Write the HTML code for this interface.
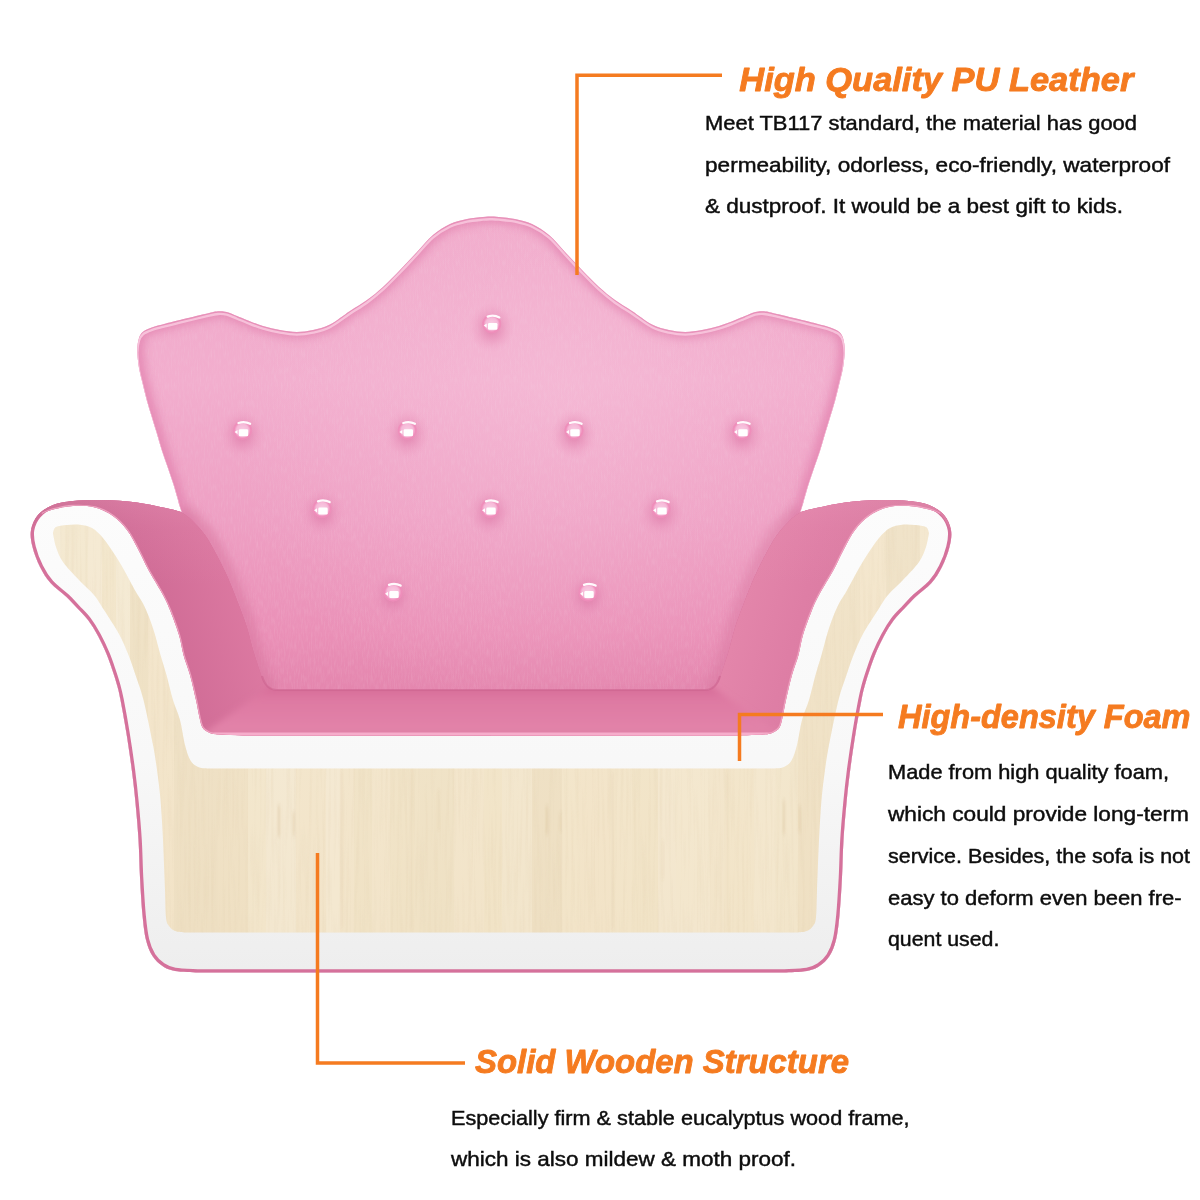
<!DOCTYPE html>
<html><head><meta charset="utf-8"><title>Sofa</title>
<style>
html,body{margin:0;padding:0;background:#fff;}
body{width:1200px;height:1200px;overflow:hidden;font-family:"Liberation Sans",sans-serif;}
svg{display:block}
.h{font-family:"Liberation Sans",sans-serif;font-weight:bold;font-style:italic;font-size:33.5px;fill:#f57b20;stroke:#f57b20;stroke-width:.9px;stroke-linejoin:round}
.b{font-family:"Liberation Sans",sans-serif;font-size:21px;fill:#0d0d0d;stroke:#0d0d0d;stroke-width:.45px}
</style></head><body>
<svg width="1200" height="1200" viewBox="0 0 1200 1200">
<defs>
<linearGradient id="gBack" x1="0" y1="216" x2="0" y2="690" gradientUnits="userSpaceOnUse">
<stop offset="0" stop-color="#f0a8c9"/><stop offset=".35" stop-color="#f2aece"/><stop offset=".65" stop-color="#ee9fc3"/><stop offset=".88" stop-color="#ea90b7"/><stop offset="1" stop-color="#e486ae"/>
</linearGradient>
<radialGradient id="gBackHi" cx="560" cy="400" r="330" gradientUnits="userSpaceOnUse">
<stop offset="0" stop-color="#fad0e4" stop-opacity=".3"/><stop offset="1" stop-color="#fbd0e6" stop-opacity="0"/>
</radialGradient>
<linearGradient id="gArmL" x1="120" y1="640" x2="262" y2="600" gradientUnits="userSpaceOnUse">
<stop offset="0" stop-color="#c8668e"/><stop offset=".3" stop-color="#d06c96"/><stop offset="1" stop-color="#de7ba3"/>
</linearGradient>
<linearGradient id="gArmR" x1="120" y1="640" x2="262" y2="600" gradientUnits="userSpaceOnUse">
<stop offset="0" stop-color="#d87a9f"/><stop offset=".45" stop-color="#de7ea5"/><stop offset="1" stop-color="#e588ac"/>
</linearGradient>
<linearGradient id="gArmTop" x1="0" y1="498" x2="0" y2="585" gradientUnits="userSpaceOnUse">
<stop offset="0" stop-color="#f3a9c7" stop-opacity=".7"/><stop offset=".35" stop-color="#ee9cbe" stop-opacity=".35"/><stop offset="1" stop-color="#ee9cbe" stop-opacity="0"/>
</linearGradient>
<linearGradient id="gSeat" x1="0" y1="688" x2="0" y2="736" gradientUnits="userSpaceOnUse">
<stop offset="0" stop-color="#d66c98"/><stop offset=".22" stop-color="#de79a2"/><stop offset=".85" stop-color="#e283a9"/><stop offset="1" stop-color="#de7fa5"/>
</linearGradient>
<linearGradient id="gFoam" x1="0" y1="500" x2="0" y2="970" gradientUnits="userSpaceOnUse"><stop offset="0" stop-color="#fcfcfc"/><stop offset=".55" stop-color="#f8f8f8"/><stop offset=".85" stop-color="#f1f1f1"/><stop offset="1" stop-color="#eeeeee"/></linearGradient>
<linearGradient id="gWood" x1="0" y1="520" x2="0" y2="935" gradientUnits="userSpaceOnUse">
<stop offset="0" stop-color="#f4e8cf"/><stop offset="1" stop-color="#f2e4c8"/>
</linearGradient>
<radialGradient id="dimple"><stop offset="0" stop-color="#dc76a4" stop-opacity=".85"/><stop offset=".42" stop-color="#e283af" stop-opacity=".5"/><stop offset="1" stop-color="#ee9ec2" stop-opacity="0"/></radialGradient>
<radialGradient id="bead" cx=".5" cy=".5" r=".5"><stop offset="0" stop-color="#f9cde3"/><stop offset=".6" stop-color="#f6b9d8"/><stop offset=".82" stop-color="#ef8dba"/><stop offset=".93" stop-color="#ef8ebb" stop-opacity=".8"/><stop offset="1" stop-color="#ef8ebb" stop-opacity="0"/></radialGradient>
<clipPath id="cSil"><path d="M181.00 512.00 C179.17 511.50 177.33 510.58 170.00 509.00 C162.67 507.42 148.17 504.00 137.00 502.50 C125.83 501.00 113.67 500.25 103.00 500.00 C92.33 499.75 81.33 500.17 73.00 501.00 C64.67 501.83 58.83 502.67 53.00 505.00 C47.17 507.33 41.67 510.83 38.00 515.00 C34.33 519.17 31.92 524.67 31.00 530.00 C30.08 535.33 31.00 540.83 32.50 547.00 C34.00 553.17 37.00 561.00 40.00 567.00 C43.00 573.00 46.08 578.00 50.50 583.00 C54.92 588.00 62.08 592.83 66.50 597.00 C70.92 601.17 73.42 604.17 77.00 608.00 C80.58 611.83 84.50 615.33 88.00 620.00 C91.50 624.67 94.92 630.33 98.00 636.00 C101.08 641.67 104.12 648.33 106.50 654.00 C108.88 659.67 110.50 664.67 112.30 670.00 C114.10 675.33 115.93 681.00 117.30 686.00 C118.67 691.00 119.00 692.25 120.50 700.00 C122.00 707.75 124.42 720.83 126.30 732.50 C128.18 744.17 130.27 758.25 131.80 770.00 C133.33 781.75 134.38 791.33 135.50 803.00 C136.62 814.67 137.75 827.58 138.50 840.00 C139.25 852.42 139.33 865.00 140.00 877.50 C140.67 890.00 141.50 904.58 142.50 915.00 C143.50 925.42 144.33 933.17 146.00 940.00 C147.67 946.83 149.75 951.67 152.50 956.00 C155.25 960.33 158.75 963.50 162.50 966.00 C166.25 968.50 169.17 969.92 175.00 971.00 C180.83 972.08 193.75 972.25 197.50 972.50 L784.50 972.50 C788.25 972.25 801.17 972.08 807.00 971.00 C812.83 969.92 815.75 968.50 819.50 966.00 C823.25 963.50 826.75 960.33 829.50 956.00 C832.25 951.67 834.33 946.83 836.00 940.00 C837.67 933.17 838.50 925.42 839.50 915.00 C840.50 904.58 841.33 890.00 842.00 877.50 C842.67 865.00 842.75 852.42 843.50 840.00 C844.25 827.58 845.38 814.67 846.50 803.00 C847.62 791.33 848.67 781.75 850.20 770.00 C851.73 758.25 853.82 744.17 855.70 732.50 C857.58 720.83 860.00 707.75 861.50 700.00 C863.00 692.25 863.33 691.00 864.70 686.00 C866.07 681.00 867.90 675.33 869.70 670.00 C871.50 664.67 873.12 659.67 875.50 654.00 C877.88 648.33 880.92 641.67 884.00 636.00 C887.08 630.33 890.50 624.67 894.00 620.00 C897.50 615.33 901.42 611.83 905.00 608.00 C908.58 604.17 911.08 601.17 915.50 597.00 C919.92 592.83 927.08 588.00 931.50 583.00 C935.92 578.00 939.00 573.00 942.00 567.00 C945.00 561.00 948.00 553.17 949.50 547.00 C951.00 540.83 951.92 535.33 951.00 530.00 C950.08 524.67 947.67 519.17 944.00 515.00 C940.33 510.83 934.83 507.33 929.00 505.00 C923.17 502.67 917.33 501.83 909.00 501.00 C900.67 500.17 889.67 499.75 879.00 500.00 C868.33 500.25 856.17 501.00 845.00 502.50 C833.83 504.00 819.33 507.42 812.00 509.00 C804.67 510.58 802.83 511.50 801.00 512.00 C799.22 513.33 794.30 516.17 790.30 520.00 C786.30 523.83 781.17 529.17 777.00 535.00 C772.83 540.83 769.13 547.83 765.30 555.00 C761.47 562.17 757.55 570.00 754.00 578.00 C750.45 586.00 747.12 594.88 744.00 603.00 C740.88 611.12 737.80 618.87 735.30 626.70 C732.80 634.53 731.22 642.50 729.00 650.00 C726.78 657.50 724.00 666.03 722.00 671.70 C720.00 677.37 719.17 680.95 717.00 684.00 C714.83 687.05 710.33 689.00 709.00 690.00 L273.00 690.00 C271.67 689.00 267.17 687.05 265.00 684.00 C262.83 680.95 262.00 677.37 260.00 671.70 C258.00 666.03 255.22 657.50 253.00 650.00 C250.78 642.50 249.20 634.53 246.70 626.70 C244.20 618.87 241.12 611.12 238.00 603.00 C234.88 594.88 231.55 586.00 228.00 578.00 C224.45 570.00 220.53 562.17 216.70 555.00 C212.87 547.83 209.17 540.83 205.00 535.00 C200.83 529.17 195.70 523.83 191.70 520.00 C187.70 516.17 182.78 513.33 181.00 512.00 Z"/></clipPath>
<clipPath id="cBack"><path d="M236.00 700.00 C231.33 681.67 217.17 621.67 208.00 590.00 C198.83 558.33 186.00 525.00 181.00 510.00 C176.00 495.00 179.33 504.50 178.00 500.00 C176.67 495.50 174.75 488.55 173.00 483.00 C171.25 477.45 169.38 472.20 167.50 466.70 C165.62 461.20 163.50 455.62 161.70 450.00 C159.90 444.38 158.37 438.55 156.70 433.00 C155.03 427.45 153.37 422.20 151.70 416.70 C150.03 411.20 148.23 405.62 146.70 400.00 C145.17 394.38 143.82 388.55 142.50 383.00 C141.18 377.45 139.67 372.20 138.80 366.70 C137.93 361.20 137.27 354.78 137.30 350.00 C137.33 345.22 138.05 341.05 139.00 338.00 C139.95 334.95 140.88 333.45 143.00 331.70 C145.12 329.95 148.03 328.83 151.70 327.50 C155.37 326.17 160.28 324.95 165.00 323.70 C169.72 322.45 173.33 321.62 180.00 320.00 C186.67 318.38 198.67 315.45 205.00 314.00 C211.33 312.55 214.38 311.63 218.00 311.30 C221.62 310.97 223.53 311.22 226.70 312.00 C229.87 312.78 233.67 314.67 237.00 316.00 C240.33 317.33 242.37 318.33 246.70 320.00 C251.03 321.67 257.45 324.33 263.00 326.00 C268.55 327.67 274.38 329.02 280.00 330.00 C285.62 330.98 291.20 331.90 296.70 331.90 C302.20 331.90 307.45 331.23 313.00 330.00 C318.55 328.77 323.83 327.67 330.00 324.50 C336.17 321.33 343.83 315.08 350.00 311.00 C356.17 306.92 361.50 304.00 367.00 300.00 C372.50 296.00 377.50 292.00 383.00 287.00 C388.50 282.00 394.33 275.83 400.00 270.00 C405.67 264.17 411.50 257.83 417.00 252.00 C422.50 246.17 427.50 239.67 433.00 235.00 C438.50 230.33 444.33 226.67 450.00 224.00 C455.67 221.33 461.50 220.17 467.00 219.00 C472.50 217.83 479.00 217.42 483.00 217.00 C487.00 216.58 489.67 216.58 491.00 216.50 C492.33 216.58 495.00 216.58 499.00 217.00 C503.00 217.42 509.50 217.83 515.00 219.00 C520.50 220.17 526.33 221.33 532.00 224.00 C537.67 226.67 543.50 230.33 549.00 235.00 C554.50 239.67 559.50 246.17 565.00 252.00 C570.50 257.83 576.33 264.17 582.00 270.00 C587.67 275.83 593.50 282.00 599.00 287.00 C604.50 292.00 609.50 296.00 615.00 300.00 C620.50 304.00 625.83 306.92 632.00 311.00 C638.17 315.08 645.83 321.33 652.00 324.50 C658.17 327.67 663.45 328.77 669.00 330.00 C674.55 331.23 679.80 331.90 685.30 331.90 C690.80 331.90 696.38 330.98 702.00 330.00 C707.62 329.02 713.45 327.67 719.00 326.00 C724.55 324.33 730.97 321.67 735.30 320.00 C739.63 318.33 741.67 317.33 745.00 316.00 C748.33 314.67 752.13 312.78 755.30 312.00 C758.47 311.22 760.38 310.97 764.00 311.30 C767.62 311.63 770.67 312.55 777.00 314.00 C783.33 315.45 795.33 318.38 802.00 320.00 C808.67 321.62 812.28 322.45 817.00 323.70 C821.72 324.95 826.63 326.17 830.30 327.50 C833.97 328.83 836.88 329.95 839.00 331.70 C841.12 333.45 842.05 334.95 843.00 338.00 C843.95 341.05 844.67 345.22 844.70 350.00 C844.73 354.78 844.07 361.20 843.20 366.70 C842.33 372.20 840.82 377.45 839.50 383.00 C838.18 388.55 836.83 394.38 835.30 400.00 C833.77 405.62 831.97 411.20 830.30 416.70 C828.63 422.20 826.97 427.45 825.30 433.00 C823.63 438.55 822.10 444.38 820.30 450.00 C818.50 455.62 816.38 461.20 814.50 466.70 C812.62 472.20 810.75 477.45 809.00 483.00 C807.25 488.55 805.33 495.50 804.00 500.00 C802.67 504.50 806.00 495.00 801.00 510.00 C796.00 525.00 783.17 558.33 774.00 590.00 C764.83 621.67 750.67 681.67 746.00 700.00 Z"/></clipPath>
<clipPath id="cInner"><path d="M181.00 512.00 C179.17 511.50 177.33 510.58 170.00 509.00 C162.67 507.42 148.17 504.00 137.00 502.50 C125.83 501.00 113.67 500.25 103.00 500.00 C92.33 499.75 81.33 500.17 73.00 501.00 C64.67 501.83 58.83 502.67 53.00 505.00 C47.17 507.33 41.67 510.83 38.00 515.00 C34.33 519.17 32.17 527.50 31.00 530.00 L36.00 522.00 C37.00 520.67 39.17 516.08 42.00 514.00 C44.83 511.92 47.83 510.83 53.00 509.50 C58.17 508.17 66.00 506.33 73.00 506.00 C80.00 505.67 88.33 505.83 95.00 507.50 C101.67 509.17 107.67 512.25 113.00 516.00 C118.33 519.75 122.83 524.50 127.00 530.00 C131.17 535.50 134.42 542.33 138.00 549.00 C141.58 555.67 144.33 562.33 148.50 570.00 C152.67 577.67 159.42 588.33 163.00 595.00 C166.58 601.67 167.33 603.33 170.00 610.00 C172.67 616.67 176.75 627.50 179.00 635.00 C181.25 642.50 181.67 648.33 183.50 655.00 C185.33 661.67 187.92 667.50 190.00 675.00 C192.08 682.50 194.42 692.92 196.00 700.00 C197.58 707.08 198.42 712.92 199.50 717.50 C200.58 722.08 200.92 725.00 202.50 727.50 C204.08 730.00 206.25 731.33 209.00 732.50 C211.75 733.67 212.17 733.98 219.00 734.50 C225.83 735.02 244.83 735.42 250.00 735.60 L732.00 735.60 C737.17 735.42 756.17 735.02 763.00 734.50 C769.83 733.98 770.25 733.67 773.00 732.50 C775.75 731.33 777.92 730.00 779.50 727.50 C781.08 725.00 781.42 722.08 782.50 717.50 C783.58 712.92 784.42 707.08 786.00 700.00 C787.58 692.92 789.92 682.50 792.00 675.00 C794.08 667.50 796.67 661.67 798.50 655.00 C800.33 648.33 800.75 642.50 803.00 635.00 C805.25 627.50 809.33 616.67 812.00 610.00 C814.67 603.33 815.42 601.67 819.00 595.00 C822.58 588.33 829.33 577.67 833.50 570.00 C837.67 562.33 840.42 555.67 844.00 549.00 C847.58 542.33 850.83 535.50 855.00 530.00 C859.17 524.50 863.67 519.75 869.00 516.00 C874.33 512.25 880.33 509.17 887.00 507.50 C893.67 505.83 902.00 505.67 909.00 506.00 C916.00 506.33 923.83 508.17 929.00 509.50 C934.17 510.83 937.17 511.92 940.00 514.00 C942.83 516.08 945.00 520.67 946.00 522.00 L951.00 530.00 C949.83 527.50 947.67 519.17 944.00 515.00 C940.33 510.83 934.83 507.33 929.00 505.00 C923.17 502.67 917.33 501.83 909.00 501.00 C900.67 500.17 889.67 499.75 879.00 500.00 C868.33 500.25 856.17 501.00 845.00 502.50 C833.83 504.00 819.33 507.42 812.00 509.00 C804.67 510.58 802.83 511.50 801.00 512.00 C799.22 513.33 794.30 516.17 790.30 520.00 C786.30 523.83 781.17 529.17 777.00 535.00 C772.83 540.83 769.13 547.83 765.30 555.00 C761.47 562.17 757.55 570.00 754.00 578.00 C750.45 586.00 747.12 594.88 744.00 603.00 C740.88 611.12 737.80 618.87 735.30 626.70 C732.80 634.53 731.22 642.50 729.00 650.00 C726.78 657.50 724.00 666.03 722.00 671.70 C720.00 677.37 719.17 680.95 717.00 684.00 C714.83 687.05 710.33 689.00 709.00 690.00 L273.00 690.00 C271.67 689.00 267.17 687.05 265.00 684.00 C262.83 680.95 262.00 677.37 260.00 671.70 C258.00 666.03 255.22 657.50 253.00 650.00 C250.78 642.50 249.20 634.53 246.70 626.70 C244.20 618.87 241.12 611.12 238.00 603.00 C234.88 594.88 231.55 586.00 228.00 578.00 C224.45 570.00 220.53 562.17 216.70 555.00 C212.87 547.83 209.17 540.83 205.00 535.00 C200.83 529.17 195.70 523.83 191.70 520.00 C187.70 516.17 182.78 513.33 181.00 512.00 Z"/></clipPath>
<clipPath id="cWood"><path d="M53.00 533.00 C53.50 535.33 54.33 542.17 56.00 547.00 C57.67 551.83 59.17 556.50 63.00 562.00 C66.83 567.50 73.83 574.50 79.00 580.00 C84.17 585.50 89.83 590.00 94.00 595.00 C98.17 600.00 99.83 603.50 104.00 610.00 C108.17 616.50 114.92 626.50 119.00 634.00 C123.08 641.50 125.75 648.17 128.50 655.00 C131.25 661.83 133.00 667.50 135.50 675.00 C138.00 682.50 140.58 688.33 143.50 700.00 C146.42 711.67 150.75 733.33 153.00 745.00 C155.25 756.67 155.75 760.83 157.00 770.00 C158.25 779.17 159.50 788.33 160.50 800.00 C161.50 811.67 162.25 825.00 163.00 840.00 C163.75 855.00 164.50 877.08 165.00 890.00 C165.50 902.92 165.33 911.50 166.00 917.50 C166.67 923.50 167.50 923.75 169.00 926.00 C170.50 928.25 172.33 929.92 175.00 931.00 C177.67 932.08 183.33 932.25 185.00 932.50 L797.00 932.50 C798.67 932.25 804.33 932.08 807.00 931.00 C809.67 929.92 811.50 928.25 813.00 926.00 C814.50 923.75 815.33 923.50 816.00 917.50 C816.67 911.50 816.50 902.92 817.00 890.00 C817.50 877.08 818.25 855.00 819.00 840.00 C819.75 825.00 820.50 811.67 821.50 800.00 C822.50 788.33 823.75 779.17 825.00 770.00 C826.25 760.83 826.75 756.67 829.00 745.00 C831.25 733.33 835.58 711.67 838.50 700.00 C841.42 688.33 844.00 682.50 846.50 675.00 C849.00 667.50 850.75 661.83 853.50 655.00 C856.25 648.17 858.92 641.50 863.00 634.00 C867.08 626.50 873.83 616.50 878.00 610.00 C882.17 603.50 883.83 600.00 888.00 595.00 C892.17 590.00 897.83 585.50 903.00 580.00 C908.17 574.50 915.17 567.50 919.00 562.00 C922.83 556.50 924.33 551.83 926.00 547.00 C927.67 542.17 928.50 535.33 929.00 533.00 C928.50 532.00 928.33 528.33 926.00 527.00 C923.67 525.67 919.00 525.38 915.00 525.00 C911.00 524.62 906.17 524.20 902.00 524.70 C897.83 525.20 893.83 525.78 890.00 528.00 C886.17 530.22 882.83 533.50 879.00 538.00 C875.17 542.50 870.50 549.67 867.00 555.00 C863.50 560.33 861.50 563.83 858.00 570.00 C854.50 576.17 849.17 586.42 846.00 592.00 C842.83 597.58 841.17 599.33 839.00 603.50 C836.83 607.67 834.92 612.08 833.00 617.00 C831.08 621.92 829.42 626.67 827.50 633.00 C825.58 639.33 823.50 648.00 821.50 655.00 C819.50 662.00 817.58 667.50 815.50 675.00 C813.42 682.50 811.25 692.50 809.00 700.00 C806.75 707.50 804.00 712.50 802.00 720.00 C800.00 727.50 798.75 738.25 797.00 745.00 C795.25 751.75 793.67 756.83 791.50 760.50 C789.33 764.17 786.83 765.67 784.00 767.00 C781.17 768.33 777.33 768.25 774.50 768.50 C771.67 768.75 768.25 768.50 767.00 768.50 L215.00 768.50 C213.75 768.50 210.33 768.75 207.50 768.50 C204.67 768.25 200.83 768.33 198.00 767.00 C195.17 765.67 192.67 764.17 190.50 760.50 C188.33 756.83 186.75 751.75 185.00 745.00 C183.25 738.25 182.00 727.50 180.00 720.00 C178.00 712.50 175.25 707.50 173.00 700.00 C170.75 692.50 168.58 682.50 166.50 675.00 C164.42 667.50 162.50 662.00 160.50 655.00 C158.50 648.00 156.42 639.33 154.50 633.00 C152.58 626.67 150.92 621.92 149.00 617.00 C147.08 612.08 145.17 607.67 143.00 603.50 C140.83 599.33 139.17 597.58 136.00 592.00 C132.83 586.42 127.50 576.17 124.00 570.00 C120.50 563.83 118.50 560.33 115.00 555.00 C111.50 549.67 106.83 542.50 103.00 538.00 C99.17 533.50 95.83 530.22 92.00 528.00 C88.17 525.78 84.17 525.20 80.00 524.70 C75.83 524.20 71.00 524.62 67.00 525.00 C63.00 525.38 58.33 525.67 56.00 527.00 C53.67 528.33 53.50 532.00 53.00 533.00 Z"/></clipPath>
<filter id="leather" x="0" y="0" width="100%" height="100%"><feTurbulence type="fractalNoise" baseFrequency="0.7 0.12" numOctaves="2" seed="3"/><feColorMatrix values="0 0 0 0 1  0 0 0 0 1  0 0 0 0 1  1.4 0 0 0 -0.55"/></filter>
<filter id="grain" x="0" y="0" width="100%" height="100%"><feTurbulence type="fractalNoise" baseFrequency="0.35 0.012" numOctaves="2" seed="5"/><feColorMatrix values="0 0 0 0 0.76  0 0 0 0 0.62  0 0 0 0 0.42  1.6 0 0 0 -0.72"/></filter>
<filter id="blur12" x="-5%" y="-5%" width="110%" height="110%"><feGaussianBlur stdDeviation="1.1 2.5"/></filter>
<filter id="blur07"><feGaussianBlur stdDeviation=".7"/></filter>
<filter id="blur3" x="-10%" y="-30%" width="120%" height="160%"><feGaussianBlur stdDeviation="3"/></filter>
<filter id="blur4"><feGaussianBlur stdDeviation="4"/></filter>
<filter id="blur6"><feGaussianBlur stdDeviation="6"/></filter>
</defs>
<rect width="1200" height="1200" fill="#fff"/>

<!-- backrest -->
<path d="M236.00 700.00 C231.33 681.67 217.17 621.67 208.00 590.00 C198.83 558.33 186.00 525.00 181.00 510.00 C176.00 495.00 179.33 504.50 178.00 500.00 C176.67 495.50 174.75 488.55 173.00 483.00 C171.25 477.45 169.38 472.20 167.50 466.70 C165.62 461.20 163.50 455.62 161.70 450.00 C159.90 444.38 158.37 438.55 156.70 433.00 C155.03 427.45 153.37 422.20 151.70 416.70 C150.03 411.20 148.23 405.62 146.70 400.00 C145.17 394.38 143.82 388.55 142.50 383.00 C141.18 377.45 139.67 372.20 138.80 366.70 C137.93 361.20 137.27 354.78 137.30 350.00 C137.33 345.22 138.05 341.05 139.00 338.00 C139.95 334.95 140.88 333.45 143.00 331.70 C145.12 329.95 148.03 328.83 151.70 327.50 C155.37 326.17 160.28 324.95 165.00 323.70 C169.72 322.45 173.33 321.62 180.00 320.00 C186.67 318.38 198.67 315.45 205.00 314.00 C211.33 312.55 214.38 311.63 218.00 311.30 C221.62 310.97 223.53 311.22 226.70 312.00 C229.87 312.78 233.67 314.67 237.00 316.00 C240.33 317.33 242.37 318.33 246.70 320.00 C251.03 321.67 257.45 324.33 263.00 326.00 C268.55 327.67 274.38 329.02 280.00 330.00 C285.62 330.98 291.20 331.90 296.70 331.90 C302.20 331.90 307.45 331.23 313.00 330.00 C318.55 328.77 323.83 327.67 330.00 324.50 C336.17 321.33 343.83 315.08 350.00 311.00 C356.17 306.92 361.50 304.00 367.00 300.00 C372.50 296.00 377.50 292.00 383.00 287.00 C388.50 282.00 394.33 275.83 400.00 270.00 C405.67 264.17 411.50 257.83 417.00 252.00 C422.50 246.17 427.50 239.67 433.00 235.00 C438.50 230.33 444.33 226.67 450.00 224.00 C455.67 221.33 461.50 220.17 467.00 219.00 C472.50 217.83 479.00 217.42 483.00 217.00 C487.00 216.58 489.67 216.58 491.00 216.50 C492.33 216.58 495.00 216.58 499.00 217.00 C503.00 217.42 509.50 217.83 515.00 219.00 C520.50 220.17 526.33 221.33 532.00 224.00 C537.67 226.67 543.50 230.33 549.00 235.00 C554.50 239.67 559.50 246.17 565.00 252.00 C570.50 257.83 576.33 264.17 582.00 270.00 C587.67 275.83 593.50 282.00 599.00 287.00 C604.50 292.00 609.50 296.00 615.00 300.00 C620.50 304.00 625.83 306.92 632.00 311.00 C638.17 315.08 645.83 321.33 652.00 324.50 C658.17 327.67 663.45 328.77 669.00 330.00 C674.55 331.23 679.80 331.90 685.30 331.90 C690.80 331.90 696.38 330.98 702.00 330.00 C707.62 329.02 713.45 327.67 719.00 326.00 C724.55 324.33 730.97 321.67 735.30 320.00 C739.63 318.33 741.67 317.33 745.00 316.00 C748.33 314.67 752.13 312.78 755.30 312.00 C758.47 311.22 760.38 310.97 764.00 311.30 C767.62 311.63 770.67 312.55 777.00 314.00 C783.33 315.45 795.33 318.38 802.00 320.00 C808.67 321.62 812.28 322.45 817.00 323.70 C821.72 324.95 826.63 326.17 830.30 327.50 C833.97 328.83 836.88 329.95 839.00 331.70 C841.12 333.45 842.05 334.95 843.00 338.00 C843.95 341.05 844.67 345.22 844.70 350.00 C844.73 354.78 844.07 361.20 843.20 366.70 C842.33 372.20 840.82 377.45 839.50 383.00 C838.18 388.55 836.83 394.38 835.30 400.00 C833.77 405.62 831.97 411.20 830.30 416.70 C828.63 422.20 826.97 427.45 825.30 433.00 C823.63 438.55 822.10 444.38 820.30 450.00 C818.50 455.62 816.38 461.20 814.50 466.70 C812.62 472.20 810.75 477.45 809.00 483.00 C807.25 488.55 805.33 495.50 804.00 500.00 C802.67 504.50 806.00 495.00 801.00 510.00 C796.00 525.00 783.17 558.33 774.00 590.00 C764.83 621.67 750.67 681.67 746.00 700.00 Z" fill="url(#gBack)"/>
<g clip-path="url(#cBack)">
<rect x="130" y="210" width="730" height="490" fill="url(#gBackHi)"/>
<rect x="130" y="210" width="730" height="490" filter="url(#leather)" opacity=".13"/>
<path d="M236.00 700.00 C231.33 681.67 217.17 621.67 208.00 590.00 C198.83 558.33 186.00 525.00 181.00 510.00 C176.00 495.00 179.33 504.50 178.00 500.00 C176.67 495.50 174.75 488.55 173.00 483.00 C171.25 477.45 169.38 472.20 167.50 466.70 C165.62 461.20 163.50 455.62 161.70 450.00 C159.90 444.38 158.37 438.55 156.70 433.00 C155.03 427.45 153.37 422.20 151.70 416.70 C150.03 411.20 148.23 405.62 146.70 400.00 C145.17 394.38 143.82 388.55 142.50 383.00 C141.18 377.45 139.67 372.20 138.80 366.70 C137.93 361.20 137.27 354.78 137.30 350.00 C137.33 345.22 138.05 341.05 139.00 338.00 C139.95 334.95 140.88 333.45 143.00 331.70 C145.12 329.95 148.03 328.83 151.70 327.50 C155.37 326.17 160.28 324.95 165.00 323.70 C169.72 322.45 173.33 321.62 180.00 320.00 C186.67 318.38 198.67 315.45 205.00 314.00 C211.33 312.55 214.38 311.63 218.00 311.30 C221.62 310.97 223.53 311.22 226.70 312.00 C229.87 312.78 233.67 314.67 237.00 316.00 C240.33 317.33 242.37 318.33 246.70 320.00 C251.03 321.67 257.45 324.33 263.00 326.00 C268.55 327.67 274.38 329.02 280.00 330.00 C285.62 330.98 291.20 331.90 296.70 331.90 C302.20 331.90 307.45 331.23 313.00 330.00 C318.55 328.77 323.83 327.67 330.00 324.50 C336.17 321.33 343.83 315.08 350.00 311.00 C356.17 306.92 361.50 304.00 367.00 300.00 C372.50 296.00 377.50 292.00 383.00 287.00 C388.50 282.00 394.33 275.83 400.00 270.00 C405.67 264.17 411.50 257.83 417.00 252.00 C422.50 246.17 427.50 239.67 433.00 235.00 C438.50 230.33 444.33 226.67 450.00 224.00 C455.67 221.33 461.50 220.17 467.00 219.00 C472.50 217.83 479.00 217.42 483.00 217.00 C487.00 216.58 489.67 216.58 491.00 216.50 C492.33 216.58 495.00 216.58 499.00 217.00 C503.00 217.42 509.50 217.83 515.00 219.00 C520.50 220.17 526.33 221.33 532.00 224.00 C537.67 226.67 543.50 230.33 549.00 235.00 C554.50 239.67 559.50 246.17 565.00 252.00 C570.50 257.83 576.33 264.17 582.00 270.00 C587.67 275.83 593.50 282.00 599.00 287.00 C604.50 292.00 609.50 296.00 615.00 300.00 C620.50 304.00 625.83 306.92 632.00 311.00 C638.17 315.08 645.83 321.33 652.00 324.50 C658.17 327.67 663.45 328.77 669.00 330.00 C674.55 331.23 679.80 331.90 685.30 331.90 C690.80 331.90 696.38 330.98 702.00 330.00 C707.62 329.02 713.45 327.67 719.00 326.00 C724.55 324.33 730.97 321.67 735.30 320.00 C739.63 318.33 741.67 317.33 745.00 316.00 C748.33 314.67 752.13 312.78 755.30 312.00 C758.47 311.22 760.38 310.97 764.00 311.30 C767.62 311.63 770.67 312.55 777.00 314.00 C783.33 315.45 795.33 318.38 802.00 320.00 C808.67 321.62 812.28 322.45 817.00 323.70 C821.72 324.95 826.63 326.17 830.30 327.50 C833.97 328.83 836.88 329.95 839.00 331.70 C841.12 333.45 842.05 334.95 843.00 338.00 C843.95 341.05 844.67 345.22 844.70 350.00 C844.73 354.78 844.07 361.20 843.20 366.70 C842.33 372.20 840.82 377.45 839.50 383.00 C838.18 388.55 836.83 394.38 835.30 400.00 C833.77 405.62 831.97 411.20 830.30 416.70 C828.63 422.20 826.97 427.45 825.30 433.00 C823.63 438.55 822.10 444.38 820.30 450.00 C818.50 455.62 816.38 461.20 814.50 466.70 C812.62 472.20 810.75 477.45 809.00 483.00 C807.25 488.55 805.33 495.50 804.00 500.00 C802.67 504.50 806.00 495.00 801.00 510.00 C796.00 525.00 783.17 558.33 774.00 590.00 C764.83 621.67 750.67 681.67 746.00 700.00 Z" fill="none" stroke="#e384b0" stroke-width="13" opacity=".8" filter="url(#blur4)"/>
<path d="M236.00 700.00 C231.33 681.67 217.17 621.67 208.00 590.00 C198.83 558.33 186.00 525.00 181.00 510.00 C176.00 495.00 179.33 504.50 178.00 500.00 C176.67 495.50 174.75 488.55 173.00 483.00 C171.25 477.45 169.38 472.20 167.50 466.70 C165.62 461.20 163.50 455.62 161.70 450.00 C159.90 444.38 158.37 438.55 156.70 433.00 C155.03 427.45 153.37 422.20 151.70 416.70 C150.03 411.20 148.23 405.62 146.70 400.00 C145.17 394.38 143.82 388.55 142.50 383.00 C141.18 377.45 139.67 372.20 138.80 366.70 C137.93 361.20 137.27 354.78 137.30 350.00 C137.33 345.22 138.05 341.05 139.00 338.00 C139.95 334.95 140.88 333.45 143.00 331.70 C145.12 329.95 148.03 328.83 151.70 327.50 C155.37 326.17 160.28 324.95 165.00 323.70 C169.72 322.45 173.33 321.62 180.00 320.00 C186.67 318.38 198.67 315.45 205.00 314.00 C211.33 312.55 214.38 311.63 218.00 311.30 C221.62 310.97 223.53 311.22 226.70 312.00 C229.87 312.78 233.67 314.67 237.00 316.00 C240.33 317.33 242.37 318.33 246.70 320.00 C251.03 321.67 257.45 324.33 263.00 326.00 C268.55 327.67 274.38 329.02 280.00 330.00 C285.62 330.98 291.20 331.90 296.70 331.90 C302.20 331.90 307.45 331.23 313.00 330.00 C318.55 328.77 323.83 327.67 330.00 324.50 C336.17 321.33 343.83 315.08 350.00 311.00 C356.17 306.92 361.50 304.00 367.00 300.00 C372.50 296.00 377.50 292.00 383.00 287.00 C388.50 282.00 394.33 275.83 400.00 270.00 C405.67 264.17 411.50 257.83 417.00 252.00 C422.50 246.17 427.50 239.67 433.00 235.00 C438.50 230.33 444.33 226.67 450.00 224.00 C455.67 221.33 461.50 220.17 467.00 219.00 C472.50 217.83 479.00 217.42 483.00 217.00 C487.00 216.58 489.67 216.58 491.00 216.50 C492.33 216.58 495.00 216.58 499.00 217.00 C503.00 217.42 509.50 217.83 515.00 219.00 C520.50 220.17 526.33 221.33 532.00 224.00 C537.67 226.67 543.50 230.33 549.00 235.00 C554.50 239.67 559.50 246.17 565.00 252.00 C570.50 257.83 576.33 264.17 582.00 270.00 C587.67 275.83 593.50 282.00 599.00 287.00 C604.50 292.00 609.50 296.00 615.00 300.00 C620.50 304.00 625.83 306.92 632.00 311.00 C638.17 315.08 645.83 321.33 652.00 324.50 C658.17 327.67 663.45 328.77 669.00 330.00 C674.55 331.23 679.80 331.90 685.30 331.90 C690.80 331.90 696.38 330.98 702.00 330.00 C707.62 329.02 713.45 327.67 719.00 326.00 C724.55 324.33 730.97 321.67 735.30 320.00 C739.63 318.33 741.67 317.33 745.00 316.00 C748.33 314.67 752.13 312.78 755.30 312.00 C758.47 311.22 760.38 310.97 764.00 311.30 C767.62 311.63 770.67 312.55 777.00 314.00 C783.33 315.45 795.33 318.38 802.00 320.00 C808.67 321.62 812.28 322.45 817.00 323.70 C821.72 324.95 826.63 326.17 830.30 327.50 C833.97 328.83 836.88 329.95 839.00 331.70 C841.12 333.45 842.05 334.95 843.00 338.00 C843.95 341.05 844.67 345.22 844.70 350.00 C844.73 354.78 844.07 361.20 843.20 366.70 C842.33 372.20 840.82 377.45 839.50 383.00 C838.18 388.55 836.83 394.38 835.30 400.00 C833.77 405.62 831.97 411.20 830.30 416.70 C828.63 422.20 826.97 427.45 825.30 433.00 C823.63 438.55 822.10 444.38 820.30 450.00 C818.50 455.62 816.38 461.20 814.50 466.70 C812.62 472.20 810.75 477.45 809.00 483.00 C807.25 488.55 805.33 495.50 804.00 500.00 C802.67 504.50 806.00 495.00 801.00 510.00 C796.00 525.00 783.17 558.33 774.00 590.00 C764.83 621.67 750.67 681.67 746.00 700.00 Z" fill="none" stroke="#f8c6de" stroke-width="2.3" opacity=".9" transform="translate(0 2.7)"/>
<g transform="translate(491.7 323.8)"><ellipse cx="0" cy="4" rx="23" ry="25" fill="url(#dimple)"/><circle r="10" fill="url(#bead)"/><path d="M-4 -7.2 Q2 -9.4 7.6 -6.4" stroke="#fff" stroke-width="2.3" fill="none" stroke-linecap="round" opacity=".95"/><rect x="-3.7" y="-0.9" width="9.4" height="6.9" rx="1.3" fill="#fff"/><path d="M-8 1.8 L-5 -0.2 L-5 3.9 Z" fill="#fff" opacity=".95"/></g>
<g transform="translate(242.5 430.2)"><ellipse cx="0" cy="4" rx="23" ry="25" fill="url(#dimple)"/><circle r="10" fill="url(#bead)"/><path d="M-4 -7.2 Q2 -9.4 7.6 -6.4" stroke="#fff" stroke-width="2.3" fill="none" stroke-linecap="round" opacity=".95"/><rect x="-3.7" y="-0.9" width="9.4" height="6.9" rx="1.3" fill="#fff"/><path d="M-8 1.8 L-5 -0.2 L-5 3.9 Z" fill="#fff" opacity=".95"/></g>
<g transform="translate(407.3 430.2)"><ellipse cx="0" cy="4" rx="23" ry="25" fill="url(#dimple)"/><circle r="10" fill="url(#bead)"/><path d="M-4 -7.2 Q2 -9.4 7.6 -6.4" stroke="#fff" stroke-width="2.3" fill="none" stroke-linecap="round" opacity=".95"/><rect x="-3.7" y="-0.9" width="9.4" height="6.9" rx="1.3" fill="#fff"/><path d="M-8 1.8 L-5 -0.2 L-5 3.9 Z" fill="#fff" opacity=".95"/></g>
<g transform="translate(574.0 430.2)"><ellipse cx="0" cy="4" rx="23" ry="25" fill="url(#dimple)"/><circle r="10" fill="url(#bead)"/><path d="M-4 -7.2 Q2 -9.4 7.6 -6.4" stroke="#fff" stroke-width="2.3" fill="none" stroke-linecap="round" opacity=".95"/><rect x="-3.7" y="-0.9" width="9.4" height="6.9" rx="1.3" fill="#fff"/><path d="M-8 1.8 L-5 -0.2 L-5 3.9 Z" fill="#fff" opacity=".95"/></g>
<g transform="translate(742.0 430.2)"><ellipse cx="0" cy="4" rx="23" ry="25" fill="url(#dimple)"/><circle r="10" fill="url(#bead)"/><path d="M-4 -7.2 Q2 -9.4 7.6 -6.4" stroke="#fff" stroke-width="2.3" fill="none" stroke-linecap="round" opacity=".95"/><rect x="-3.7" y="-0.9" width="9.4" height="6.9" rx="1.3" fill="#fff"/><path d="M-8 1.8 L-5 -0.2 L-5 3.9 Z" fill="#fff" opacity=".95"/></g>
<g transform="translate(322.0 508.5)"><ellipse cx="0" cy="4" rx="23" ry="25" fill="url(#dimple)"/><circle r="10" fill="url(#bead)"/><path d="M-4 -7.2 Q2 -9.4 7.6 -6.4" stroke="#fff" stroke-width="2.3" fill="none" stroke-linecap="round" opacity=".95"/><rect x="-3.7" y="-0.9" width="9.4" height="6.9" rx="1.3" fill="#fff"/><path d="M-8 1.8 L-5 -0.2 L-5 3.9 Z" fill="#fff" opacity=".95"/></g>
<g transform="translate(490.0 508.5)"><ellipse cx="0" cy="4" rx="23" ry="25" fill="url(#dimple)"/><circle r="10" fill="url(#bead)"/><path d="M-4 -7.2 Q2 -9.4 7.6 -6.4" stroke="#fff" stroke-width="2.3" fill="none" stroke-linecap="round" opacity=".95"/><rect x="-3.7" y="-0.9" width="9.4" height="6.9" rx="1.3" fill="#fff"/><path d="M-8 1.8 L-5 -0.2 L-5 3.9 Z" fill="#fff" opacity=".95"/></g>
<g transform="translate(661.0 508.5)"><ellipse cx="0" cy="4" rx="23" ry="25" fill="url(#dimple)"/><circle r="10" fill="url(#bead)"/><path d="M-4 -7.2 Q2 -9.4 7.6 -6.4" stroke="#fff" stroke-width="2.3" fill="none" stroke-linecap="round" opacity=".95"/><rect x="-3.7" y="-0.9" width="9.4" height="6.9" rx="1.3" fill="#fff"/><path d="M-8 1.8 L-5 -0.2 L-5 3.9 Z" fill="#fff" opacity=".95"/></g>
<g transform="translate(393.0 592.0)"><ellipse cx="0" cy="4" rx="23" ry="25" fill="url(#dimple)"/><circle r="10" fill="url(#bead)"/><path d="M-4 -7.2 Q2 -9.4 7.6 -6.4" stroke="#fff" stroke-width="2.3" fill="none" stroke-linecap="round" opacity=".95"/><rect x="-3.7" y="-0.9" width="9.4" height="6.9" rx="1.3" fill="#fff"/><path d="M-8 1.8 L-5 -0.2 L-5 3.9 Z" fill="#fff" opacity=".95"/></g>
<g transform="translate(588.0 592.0)"><ellipse cx="0" cy="4" rx="23" ry="25" fill="url(#dimple)"/><circle r="10" fill="url(#bead)"/><path d="M-4 -7.2 Q2 -9.4 7.6 -6.4" stroke="#fff" stroke-width="2.3" fill="none" stroke-linecap="round" opacity=".95"/><rect x="-3.7" y="-0.9" width="9.4" height="6.9" rx="1.3" fill="#fff"/><path d="M-8 1.8 L-5 -0.2 L-5 3.9 Z" fill="#fff" opacity=".95"/></g>

<path d="M181.00 512.00 C182.78 513.33 187.70 516.17 191.70 520.00 C195.70 523.83 200.83 529.17 205.00 535.00 C209.17 540.83 212.87 547.83 216.70 555.00 C220.53 562.17 224.45 570.00 228.00 578.00 C231.55 586.00 234.88 594.88 238.00 603.00 C241.12 611.12 244.20 618.87 246.70 626.70 C249.20 634.53 250.78 642.50 253.00 650.00 C255.22 657.50 258.00 666.03 260.00 671.70 C262.00 677.37 262.83 680.95 265.00 684.00 C267.17 687.05 271.67 689.00 273.00 690.00 " fill="none" stroke="#d6759d" stroke-width="18" opacity=".5" filter="url(#blur4)"/>
<g transform="translate(982 0) scale(-1 1)"><path d="M181.00 512.00 C182.78 513.33 187.70 516.17 191.70 520.00 C195.70 523.83 200.83 529.17 205.00 535.00 C209.17 540.83 212.87 547.83 216.70 555.00 C220.53 562.17 224.45 570.00 228.00 578.00 C231.55 586.00 234.88 594.88 238.00 603.00 C241.12 611.12 244.20 618.87 246.70 626.70 C249.20 634.53 250.78 642.50 253.00 650.00 C255.22 657.50 258.00 666.03 260.00 671.70 C262.00 677.37 262.83 680.95 265.00 684.00 C267.17 687.05 271.67 689.00 273.00 690.00 " fill="none" stroke="#d6759d" stroke-width="18" opacity=".4" filter="url(#blur4)"/></g>

</g>

<!-- body silhouette: pink rim + white foam -->
<path d="M181.00 512.00 C179.17 511.50 177.33 510.58 170.00 509.00 C162.67 507.42 148.17 504.00 137.00 502.50 C125.83 501.00 113.67 500.25 103.00 500.00 C92.33 499.75 81.33 500.17 73.00 501.00 C64.67 501.83 58.83 502.67 53.00 505.00 C47.17 507.33 41.67 510.83 38.00 515.00 C34.33 519.17 31.92 524.67 31.00 530.00 C30.08 535.33 31.00 540.83 32.50 547.00 C34.00 553.17 37.00 561.00 40.00 567.00 C43.00 573.00 46.08 578.00 50.50 583.00 C54.92 588.00 62.08 592.83 66.50 597.00 C70.92 601.17 73.42 604.17 77.00 608.00 C80.58 611.83 84.50 615.33 88.00 620.00 C91.50 624.67 94.92 630.33 98.00 636.00 C101.08 641.67 104.12 648.33 106.50 654.00 C108.88 659.67 110.50 664.67 112.30 670.00 C114.10 675.33 115.93 681.00 117.30 686.00 C118.67 691.00 119.00 692.25 120.50 700.00 C122.00 707.75 124.42 720.83 126.30 732.50 C128.18 744.17 130.27 758.25 131.80 770.00 C133.33 781.75 134.38 791.33 135.50 803.00 C136.62 814.67 137.75 827.58 138.50 840.00 C139.25 852.42 139.33 865.00 140.00 877.50 C140.67 890.00 141.50 904.58 142.50 915.00 C143.50 925.42 144.33 933.17 146.00 940.00 C147.67 946.83 149.75 951.67 152.50 956.00 C155.25 960.33 158.75 963.50 162.50 966.00 C166.25 968.50 169.17 969.92 175.00 971.00 C180.83 972.08 193.75 972.25 197.50 972.50 L784.50 972.50 C788.25 972.25 801.17 972.08 807.00 971.00 C812.83 969.92 815.75 968.50 819.50 966.00 C823.25 963.50 826.75 960.33 829.50 956.00 C832.25 951.67 834.33 946.83 836.00 940.00 C837.67 933.17 838.50 925.42 839.50 915.00 C840.50 904.58 841.33 890.00 842.00 877.50 C842.67 865.00 842.75 852.42 843.50 840.00 C844.25 827.58 845.38 814.67 846.50 803.00 C847.62 791.33 848.67 781.75 850.20 770.00 C851.73 758.25 853.82 744.17 855.70 732.50 C857.58 720.83 860.00 707.75 861.50 700.00 C863.00 692.25 863.33 691.00 864.70 686.00 C866.07 681.00 867.90 675.33 869.70 670.00 C871.50 664.67 873.12 659.67 875.50 654.00 C877.88 648.33 880.92 641.67 884.00 636.00 C887.08 630.33 890.50 624.67 894.00 620.00 C897.50 615.33 901.42 611.83 905.00 608.00 C908.58 604.17 911.08 601.17 915.50 597.00 C919.92 592.83 927.08 588.00 931.50 583.00 C935.92 578.00 939.00 573.00 942.00 567.00 C945.00 561.00 948.00 553.17 949.50 547.00 C951.00 540.83 951.92 535.33 951.00 530.00 C950.08 524.67 947.67 519.17 944.00 515.00 C940.33 510.83 934.83 507.33 929.00 505.00 C923.17 502.67 917.33 501.83 909.00 501.00 C900.67 500.17 889.67 499.75 879.00 500.00 C868.33 500.25 856.17 501.00 845.00 502.50 C833.83 504.00 819.33 507.42 812.00 509.00 C804.67 510.58 802.83 511.50 801.00 512.00 C799.22 513.33 794.30 516.17 790.30 520.00 C786.30 523.83 781.17 529.17 777.00 535.00 C772.83 540.83 769.13 547.83 765.30 555.00 C761.47 562.17 757.55 570.00 754.00 578.00 C750.45 586.00 747.12 594.88 744.00 603.00 C740.88 611.12 737.80 618.87 735.30 626.70 C732.80 634.53 731.22 642.50 729.00 650.00 C726.78 657.50 724.00 666.03 722.00 671.70 C720.00 677.37 719.17 680.95 717.00 684.00 C714.83 687.05 710.33 689.00 709.00 690.00 L273.00 690.00 C271.67 689.00 267.17 687.05 265.00 684.00 C262.83 680.95 262.00 677.37 260.00 671.70 C258.00 666.03 255.22 657.50 253.00 650.00 C250.78 642.50 249.20 634.53 246.70 626.70 C244.20 618.87 241.12 611.12 238.00 603.00 C234.88 594.88 231.55 586.00 228.00 578.00 C224.45 570.00 220.53 562.17 216.70 555.00 C212.87 547.83 209.17 540.83 205.00 535.00 C200.83 529.17 195.70 523.83 191.70 520.00 C187.70 516.17 182.78 513.33 181.00 512.00 Z" fill="#dd7ba4"/>
<path d="M36.00 522.00 C37.00 520.67 39.17 516.08 42.00 514.00 C44.83 511.92 47.83 510.83 53.00 509.50 C58.17 508.17 66.00 506.33 73.00 506.00 C80.00 505.67 88.33 505.83 95.00 507.50 C101.67 509.17 107.67 512.25 113.00 516.00 C118.33 519.75 122.83 524.50 127.00 530.00 C131.17 535.50 134.42 542.33 138.00 549.00 C141.58 555.67 144.33 562.33 148.50 570.00 C152.67 577.67 159.42 588.33 163.00 595.00 C166.58 601.67 167.33 603.33 170.00 610.00 C172.67 616.67 176.75 627.50 179.00 635.00 C181.25 642.50 181.67 648.33 183.50 655.00 C185.33 661.67 187.92 667.50 190.00 675.00 C192.08 682.50 194.42 692.92 196.00 700.00 C197.58 707.08 198.42 712.92 199.50 717.50 C200.58 722.08 200.92 725.00 202.50 727.50 C204.08 730.00 206.25 731.33 209.00 732.50 C211.75 733.67 212.17 733.98 219.00 734.50 C225.83 735.02 244.83 735.42 250.00 735.60 L732.00 735.60 C737.17 735.42 756.17 735.02 763.00 734.50 C769.83 733.98 770.25 733.67 773.00 732.50 C775.75 731.33 777.92 730.00 779.50 727.50 C781.08 725.00 781.42 722.08 782.50 717.50 C783.58 712.92 784.42 707.08 786.00 700.00 C787.58 692.92 789.92 682.50 792.00 675.00 C794.08 667.50 796.67 661.67 798.50 655.00 C800.33 648.33 800.75 642.50 803.00 635.00 C805.25 627.50 809.33 616.67 812.00 610.00 C814.67 603.33 815.42 601.67 819.00 595.00 C822.58 588.33 829.33 577.67 833.50 570.00 C837.67 562.33 840.42 555.67 844.00 549.00 C847.58 542.33 850.83 535.50 855.00 530.00 C859.17 524.50 863.67 519.75 869.00 516.00 C874.33 512.25 880.33 509.17 887.00 507.50 C893.67 505.83 902.00 505.67 909.00 506.00 C916.00 506.33 923.83 508.17 929.00 509.50 C934.17 510.83 937.17 511.92 940.00 514.00 C942.83 516.08 945.00 520.67 946.00 522.00 L951.00 530.00 C950.75 532.83 951.00 540.83 949.50 547.00 C948.00 553.17 945.00 561.00 942.00 567.00 C939.00 573.00 935.92 578.00 931.50 583.00 C927.08 588.00 919.92 592.83 915.50 597.00 C911.08 601.17 908.58 604.17 905.00 608.00 C901.42 611.83 897.50 615.33 894.00 620.00 C890.50 624.67 887.08 630.33 884.00 636.00 C880.92 641.67 877.88 648.33 875.50 654.00 C873.12 659.67 871.50 664.67 869.70 670.00 C867.90 675.33 866.07 681.00 864.70 686.00 C863.33 691.00 863.00 692.25 861.50 700.00 C860.00 707.75 857.58 720.83 855.70 732.50 C853.82 744.17 851.73 758.25 850.20 770.00 C848.67 781.75 847.62 791.33 846.50 803.00 C845.38 814.67 844.25 827.58 843.50 840.00 C842.75 852.42 842.67 865.00 842.00 877.50 C841.33 890.00 840.50 904.58 839.50 915.00 C838.50 925.42 837.67 933.17 836.00 940.00 C834.33 946.83 832.25 951.67 829.50 956.00 C826.75 960.33 823.25 963.50 819.50 966.00 C815.75 968.50 812.83 969.92 807.00 971.00 C801.17 972.08 788.25 972.25 784.50 972.50 L197.50 972.50 C193.75 972.25 180.83 972.08 175.00 971.00 C169.17 969.92 166.25 968.50 162.50 966.00 C158.75 963.50 155.25 960.33 152.50 956.00 C149.75 951.67 147.67 946.83 146.00 940.00 C144.33 933.17 143.50 925.42 142.50 915.00 C141.50 904.58 140.67 890.00 140.00 877.50 C139.33 865.00 139.25 852.42 138.50 840.00 C137.75 827.58 136.62 814.67 135.50 803.00 C134.38 791.33 133.33 781.75 131.80 770.00 C130.27 758.25 128.18 744.17 126.30 732.50 C124.42 720.83 122.00 707.75 120.50 700.00 C119.00 692.25 118.67 691.00 117.30 686.00 C115.93 681.00 114.10 675.33 112.30 670.00 C110.50 664.67 108.88 659.67 106.50 654.00 C104.12 648.33 101.08 641.67 98.00 636.00 C94.92 630.33 91.50 624.67 88.00 620.00 C84.50 615.33 80.58 611.83 77.00 608.00 C73.42 604.17 70.92 601.17 66.50 597.00 C62.08 592.83 54.92 588.00 50.50 583.00 C46.08 578.00 43.00 573.00 40.00 567.00 C37.00 561.00 34.00 553.17 32.50 547.00 C31.00 540.83 31.25 532.83 31.00 530.00 Z" fill="url(#gFoam)"/>
<g clip-path="url(#cSil)"><path d="M181.00 512.00 C179.17 511.50 177.33 510.58 170.00 509.00 C162.67 507.42 148.17 504.00 137.00 502.50 C125.83 501.00 113.67 500.25 103.00 500.00 C92.33 499.75 81.33 500.17 73.00 501.00 C64.67 501.83 58.83 502.67 53.00 505.00 C47.17 507.33 41.67 510.83 38.00 515.00 C34.33 519.17 31.92 524.67 31.00 530.00 C30.08 535.33 31.00 540.83 32.50 547.00 C34.00 553.17 37.00 561.00 40.00 567.00 C43.00 573.00 46.08 578.00 50.50 583.00 C54.92 588.00 62.08 592.83 66.50 597.00 C70.92 601.17 73.42 604.17 77.00 608.00 C80.58 611.83 84.50 615.33 88.00 620.00 C91.50 624.67 94.92 630.33 98.00 636.00 C101.08 641.67 104.12 648.33 106.50 654.00 C108.88 659.67 110.50 664.67 112.30 670.00 C114.10 675.33 115.93 681.00 117.30 686.00 C118.67 691.00 119.00 692.25 120.50 700.00 C122.00 707.75 124.42 720.83 126.30 732.50 C128.18 744.17 130.27 758.25 131.80 770.00 C133.33 781.75 134.38 791.33 135.50 803.00 C136.62 814.67 137.75 827.58 138.50 840.00 C139.25 852.42 139.33 865.00 140.00 877.50 C140.67 890.00 141.50 904.58 142.50 915.00 C143.50 925.42 144.33 933.17 146.00 940.00 C147.67 946.83 149.75 951.67 152.50 956.00 C155.25 960.33 158.75 963.50 162.50 966.00 C166.25 968.50 169.17 969.92 175.00 971.00 C180.83 972.08 193.75 972.25 197.50 972.50 L784.50 972.50 C788.25 972.25 801.17 972.08 807.00 971.00 C812.83 969.92 815.75 968.50 819.50 966.00 C823.25 963.50 826.75 960.33 829.50 956.00 C832.25 951.67 834.33 946.83 836.00 940.00 C837.67 933.17 838.50 925.42 839.50 915.00 C840.50 904.58 841.33 890.00 842.00 877.50 C842.67 865.00 842.75 852.42 843.50 840.00 C844.25 827.58 845.38 814.67 846.50 803.00 C847.62 791.33 848.67 781.75 850.20 770.00 C851.73 758.25 853.82 744.17 855.70 732.50 C857.58 720.83 860.00 707.75 861.50 700.00 C863.00 692.25 863.33 691.00 864.70 686.00 C866.07 681.00 867.90 675.33 869.70 670.00 C871.50 664.67 873.12 659.67 875.50 654.00 C877.88 648.33 880.92 641.67 884.00 636.00 C887.08 630.33 890.50 624.67 894.00 620.00 C897.50 615.33 901.42 611.83 905.00 608.00 C908.58 604.17 911.08 601.17 915.50 597.00 C919.92 592.83 927.08 588.00 931.50 583.00 C935.92 578.00 939.00 573.00 942.00 567.00 C945.00 561.00 948.00 553.17 949.50 547.00 C951.00 540.83 951.92 535.33 951.00 530.00 C950.08 524.67 947.67 519.17 944.00 515.00 C940.33 510.83 934.83 507.33 929.00 505.00 C923.17 502.67 917.33 501.83 909.00 501.00 C900.67 500.17 889.67 499.75 879.00 500.00 C868.33 500.25 856.17 501.00 845.00 502.50 C833.83 504.00 819.33 507.42 812.00 509.00 C804.67 510.58 802.83 511.50 801.00 512.00 C799.22 513.33 794.30 516.17 790.30 520.00 C786.30 523.83 781.17 529.17 777.00 535.00 C772.83 540.83 769.13 547.83 765.30 555.00 C761.47 562.17 757.55 570.00 754.00 578.00 C750.45 586.00 747.12 594.88 744.00 603.00 C740.88 611.12 737.80 618.87 735.30 626.70 C732.80 634.53 731.22 642.50 729.00 650.00 C726.78 657.50 724.00 666.03 722.00 671.70 C720.00 677.37 719.17 680.95 717.00 684.00 C714.83 687.05 710.33 689.00 709.00 690.00 L273.00 690.00 C271.67 689.00 267.17 687.05 265.00 684.00 C262.83 680.95 262.00 677.37 260.00 671.70 C258.00 666.03 255.22 657.50 253.00 650.00 C250.78 642.50 249.20 634.53 246.70 626.70 C244.20 618.87 241.12 611.12 238.00 603.00 C234.88 594.88 231.55 586.00 228.00 578.00 C224.45 570.00 220.53 562.17 216.70 555.00 C212.87 547.83 209.17 540.83 205.00 535.00 C200.83 529.17 195.70 523.83 191.70 520.00 C187.70 516.17 182.78 513.33 181.00 512.00 Z" fill="none" stroke="#d5719b" stroke-width="6.6"/></g>

<!-- wood -->
<path d="M53.00 533.00 C53.50 535.33 54.33 542.17 56.00 547.00 C57.67 551.83 59.17 556.50 63.00 562.00 C66.83 567.50 73.83 574.50 79.00 580.00 C84.17 585.50 89.83 590.00 94.00 595.00 C98.17 600.00 99.83 603.50 104.00 610.00 C108.17 616.50 114.92 626.50 119.00 634.00 C123.08 641.50 125.75 648.17 128.50 655.00 C131.25 661.83 133.00 667.50 135.50 675.00 C138.00 682.50 140.58 688.33 143.50 700.00 C146.42 711.67 150.75 733.33 153.00 745.00 C155.25 756.67 155.75 760.83 157.00 770.00 C158.25 779.17 159.50 788.33 160.50 800.00 C161.50 811.67 162.25 825.00 163.00 840.00 C163.75 855.00 164.50 877.08 165.00 890.00 C165.50 902.92 165.33 911.50 166.00 917.50 C166.67 923.50 167.50 923.75 169.00 926.00 C170.50 928.25 172.33 929.92 175.00 931.00 C177.67 932.08 183.33 932.25 185.00 932.50 L797.00 932.50 C798.67 932.25 804.33 932.08 807.00 931.00 C809.67 929.92 811.50 928.25 813.00 926.00 C814.50 923.75 815.33 923.50 816.00 917.50 C816.67 911.50 816.50 902.92 817.00 890.00 C817.50 877.08 818.25 855.00 819.00 840.00 C819.75 825.00 820.50 811.67 821.50 800.00 C822.50 788.33 823.75 779.17 825.00 770.00 C826.25 760.83 826.75 756.67 829.00 745.00 C831.25 733.33 835.58 711.67 838.50 700.00 C841.42 688.33 844.00 682.50 846.50 675.00 C849.00 667.50 850.75 661.83 853.50 655.00 C856.25 648.17 858.92 641.50 863.00 634.00 C867.08 626.50 873.83 616.50 878.00 610.00 C882.17 603.50 883.83 600.00 888.00 595.00 C892.17 590.00 897.83 585.50 903.00 580.00 C908.17 574.50 915.17 567.50 919.00 562.00 C922.83 556.50 924.33 551.83 926.00 547.00 C927.67 542.17 928.50 535.33 929.00 533.00 C928.50 532.00 928.33 528.33 926.00 527.00 C923.67 525.67 919.00 525.38 915.00 525.00 C911.00 524.62 906.17 524.20 902.00 524.70 C897.83 525.20 893.83 525.78 890.00 528.00 C886.17 530.22 882.83 533.50 879.00 538.00 C875.17 542.50 870.50 549.67 867.00 555.00 C863.50 560.33 861.50 563.83 858.00 570.00 C854.50 576.17 849.17 586.42 846.00 592.00 C842.83 597.58 841.17 599.33 839.00 603.50 C836.83 607.67 834.92 612.08 833.00 617.00 C831.08 621.92 829.42 626.67 827.50 633.00 C825.58 639.33 823.50 648.00 821.50 655.00 C819.50 662.00 817.58 667.50 815.50 675.00 C813.42 682.50 811.25 692.50 809.00 700.00 C806.75 707.50 804.00 712.50 802.00 720.00 C800.00 727.50 798.75 738.25 797.00 745.00 C795.25 751.75 793.67 756.83 791.50 760.50 C789.33 764.17 786.83 765.67 784.00 767.00 C781.17 768.33 777.33 768.25 774.50 768.50 C771.67 768.75 768.25 768.50 767.00 768.50 L215.00 768.50 C213.75 768.50 210.33 768.75 207.50 768.50 C204.67 768.25 200.83 768.33 198.00 767.00 C195.17 765.67 192.67 764.17 190.50 760.50 C188.33 756.83 186.75 751.75 185.00 745.00 C183.25 738.25 182.00 727.50 180.00 720.00 C178.00 712.50 175.25 707.50 173.00 700.00 C170.75 692.50 168.58 682.50 166.50 675.00 C164.42 667.50 162.50 662.00 160.50 655.00 C158.50 648.00 156.42 639.33 154.50 633.00 C152.58 626.67 150.92 621.92 149.00 617.00 C147.08 612.08 145.17 607.67 143.00 603.50 C140.83 599.33 139.17 597.58 136.00 592.00 C132.83 586.42 127.50 576.17 124.00 570.00 C120.50 563.83 118.50 560.33 115.00 555.00 C111.50 549.67 106.83 542.50 103.00 538.00 C99.17 533.50 95.83 530.22 92.00 528.00 C88.17 525.78 84.17 525.20 80.00 524.70 C75.83 524.20 71.00 524.62 67.00 525.00 C63.00 525.38 58.33 525.67 56.00 527.00 C53.67 528.33 53.50 532.00 53.00 533.00 Z" fill="url(#gWood)"/>
<g clip-path="url(#cWood)"><rect x="40" y="500" width="22" height="440" fill="#fff" opacity="0.139"/><rect x="62" y="500" width="26" height="440" fill="#fff" opacity="0.054"/><rect x="88" y="500" width="14" height="440" fill="#fff" opacity="0.103"/><rect x="102" y="500" width="14" height="440" fill="#c7a677" opacity="0.016"/><rect x="116" y="500" width="14" height="440" fill="#fff" opacity="0.128"/><rect x="130" y="500" width="18" height="440" fill="#c7a677" opacity="0.072"/><rect x="148" y="500" width="26" height="440" fill="#c7a677" opacity="0.007"/><rect x="174" y="500" width="18" height="440" fill="#c7a677" opacity="0.063"/><rect x="192" y="500" width="26" height="440" fill="#c7a677" opacity="0.068"/><rect x="218" y="500" width="30" height="440" fill="#c7a677" opacity="0.057"/><rect x="248" y="500" width="18" height="440" fill="#fff" opacity="0.048"/><rect x="266" y="500" width="30" height="440" fill="#fff" opacity="0.139"/><rect x="296" y="500" width="30" height="440" fill="#fff" opacity="0.035"/><rect x="326" y="500" width="14" height="440" fill="#fff" opacity="0.147"/><rect x="340" y="500" width="14" height="440" fill="#fff" opacity="0.027"/><rect x="354" y="500" width="18" height="440" fill="#c7a677" opacity="0.029"/><rect x="372" y="500" width="18" height="440" fill="#fff" opacity="0.023"/><rect x="390" y="500" width="30" height="440" fill="#c7a677" opacity="0.026"/><rect x="420" y="500" width="34" height="440" fill="#c7a677" opacity="0.047"/><rect x="454" y="500" width="30" height="440" fill="#fff" opacity="0.031"/><rect x="484" y="500" width="18" height="440" fill="#c7a677" opacity="0.015"/><rect x="502" y="500" width="30" height="440" fill="#fff" opacity="0.072"/><rect x="532" y="500" width="30" height="440" fill="#c7a677" opacity="0.068"/><rect x="562" y="500" width="18" height="440" fill="#fff" opacity="0.010"/><rect x="580" y="500" width="30" height="440" fill="#c7a677" opacity="0.006"/><rect x="610" y="500" width="22" height="440" fill="#fff" opacity="0.001"/><rect x="632" y="500" width="26" height="440" fill="#c7a677" opacity="0.017"/><rect x="658" y="500" width="18" height="440" fill="#fff" opacity="0.095"/><rect x="676" y="500" width="34" height="440" fill="#fff" opacity="0.091"/><rect x="710" y="500" width="14" height="440" fill="#fff" opacity="0.032"/><rect x="724" y="500" width="30" height="440" fill="#fff" opacity="0.010"/><rect x="754" y="500" width="22" height="440" fill="#fff" opacity="0.077"/><rect x="776" y="500" width="22" height="440" fill="#fff" opacity="0.042"/><rect x="798" y="500" width="14" height="440" fill="#c7a677" opacity="0.058"/><rect x="812" y="500" width="26" height="440" fill="#c7a677" opacity="0.050"/><rect x="838" y="500" width="22" height="440" fill="#c7a677" opacity="0.052"/><rect x="860" y="500" width="26" height="440" fill="#c7a677" opacity="0.007"/><rect x="886" y="500" width="34" height="440" fill="#c7a677" opacity="0.065"/><rect x="920" y="500" width="30" height="440" fill="#fff" opacity="0.032"/>
<rect x="40" y="500" width="910" height="440" filter="url(#grain)" opacity=".3"/>
<g filter="url(#blur12)" opacity=".8"><rect x="278" y="805" width="1.6" height="32" rx="1" fill="#b8935a" opacity="0.35"/><rect x="293" y="812" width="1.4" height="24" rx="1" fill="#b8935a" opacity="0.3"/><rect x="546" y="806" width="1.6" height="28" rx="1" fill="#b8935a" opacity="0.3"/><rect x="560" y="812" width="1.2" height="20" rx="1" fill="#b8935a" opacity="0.22"/><rect x="783" y="800" width="1.6" height="34" rx="1" fill="#b8935a" opacity="0.3"/><rect x="799" y="806" width="1.4" height="26" rx="1" fill="#b8935a" opacity="0.28"/><rect x="438" y="790" width="1.2" height="40" rx="1" fill="#b8935a" opacity="0.18"/><rect x="662" y="840" width="1.2" height="40" rx="1" fill="#b8935a" opacity="0.15"/><rect x="341" y="770" width="1.2" height="160" rx="1" fill="#b8935a" opacity="0.12"/><rect x="411" y="770" width="1.2" height="160" rx="1" fill="#b8935a" opacity="0.1"/><rect x="612" y="770" width="1.2" height="160" rx="1" fill="#b8935a" opacity="0.12"/><rect x="727" y="770" width="1.2" height="160" rx="1" fill="#b8935a" opacity="0.1"/></g>
</g>

<!-- inner arms + seat -->
<path d="M181.00 512.00 C179.17 511.50 177.33 510.58 170.00 509.00 C162.67 507.42 148.17 504.00 137.00 502.50 C125.83 501.00 113.67 500.25 103.00 500.00 C92.33 499.75 81.33 500.17 73.00 501.00 C64.67 501.83 58.83 502.67 53.00 505.00 C47.17 507.33 41.67 510.83 38.00 515.00 C34.33 519.17 32.17 527.50 31.00 530.00 L36.00 522.00 C37.00 520.67 39.17 516.08 42.00 514.00 C44.83 511.92 47.83 510.83 53.00 509.50 C58.17 508.17 66.00 506.33 73.00 506.00 C80.00 505.67 88.33 505.83 95.00 507.50 C101.67 509.17 107.67 512.25 113.00 516.00 C118.33 519.75 122.83 524.50 127.00 530.00 C131.17 535.50 134.42 542.33 138.00 549.00 C141.58 555.67 144.33 562.33 148.50 570.00 C152.67 577.67 159.42 588.33 163.00 595.00 C166.58 601.67 167.33 603.33 170.00 610.00 C172.67 616.67 176.75 627.50 179.00 635.00 C181.25 642.50 181.67 648.33 183.50 655.00 C185.33 661.67 187.92 667.50 190.00 675.00 C192.08 682.50 194.42 692.92 196.00 700.00 C197.58 707.08 198.42 712.92 199.50 717.50 C200.58 722.08 200.92 725.00 202.50 727.50 C204.08 730.00 206.25 731.33 209.00 732.50 C211.75 733.67 212.17 733.98 219.00 734.50 C225.83 735.02 244.83 735.42 250.00 735.60 L491 736 L491 690 L273.00 690.00 C271.67 689.00 267.17 687.05 265.00 684.00 C262.83 680.95 262.00 677.37 260.00 671.70 C258.00 666.03 255.22 657.50 253.00 650.00 C250.78 642.50 249.20 634.53 246.70 626.70 C244.20 618.87 241.12 611.12 238.00 603.00 C234.88 594.88 231.55 586.00 228.00 578.00 C224.45 570.00 220.53 562.17 216.70 555.00 C212.87 547.83 209.17 540.83 205.00 535.00 C200.83 529.17 195.70 523.83 191.70 520.00 C187.70 516.17 182.78 513.33 181.00 512.00 Z" fill="url(#gArmL)"/><path d="M181.00 512.00 C179.17 511.50 177.33 510.58 170.00 509.00 C162.67 507.42 148.17 504.00 137.00 502.50 C125.83 501.00 113.67 500.25 103.00 500.00 C92.33 499.75 81.33 500.17 73.00 501.00 C64.67 501.83 58.83 502.67 53.00 505.00 C47.17 507.33 41.67 510.83 38.00 515.00 C34.33 519.17 32.17 527.50 31.00 530.00 L36.00 522.00 C37.00 520.67 39.17 516.08 42.00 514.00 C44.83 511.92 47.83 510.83 53.00 509.50 C58.17 508.17 66.00 506.33 73.00 506.00 C80.00 505.67 88.33 505.83 95.00 507.50 C101.67 509.17 107.67 512.25 113.00 516.00 C118.33 519.75 122.83 524.50 127.00 530.00 C131.17 535.50 134.42 542.33 138.00 549.00 C141.58 555.67 144.33 562.33 148.50 570.00 C152.67 577.67 159.42 588.33 163.00 595.00 C166.58 601.67 167.33 603.33 170.00 610.00 C172.67 616.67 176.75 627.50 179.00 635.00 C181.25 642.50 181.67 648.33 183.50 655.00 C185.33 661.67 187.92 667.50 190.00 675.00 C192.08 682.50 194.42 692.92 196.00 700.00 C197.58 707.08 198.42 712.92 199.50 717.50 C200.58 722.08 200.92 725.00 202.50 727.50 C204.08 730.00 206.25 731.33 209.00 732.50 C211.75 733.67 212.17 733.98 219.00 734.50 C225.83 735.02 244.83 735.42 250.00 735.60 L491 736 L491 690 L273.00 690.00 C271.67 689.00 267.17 687.05 265.00 684.00 C262.83 680.95 262.00 677.37 260.00 671.70 C258.00 666.03 255.22 657.50 253.00 650.00 C250.78 642.50 249.20 634.53 246.70 626.70 C244.20 618.87 241.12 611.12 238.00 603.00 C234.88 594.88 231.55 586.00 228.00 578.00 C224.45 570.00 220.53 562.17 216.70 555.00 C212.87 547.83 209.17 540.83 205.00 535.00 C200.83 529.17 195.70 523.83 191.70 520.00 C187.70 516.17 182.78 513.33 181.00 512.00 Z" fill="url(#gArmTop)" opacity=".35"/>
<g transform="translate(982 0) scale(-1 1)"><path d="M181.00 512.00 C179.17 511.50 177.33 510.58 170.00 509.00 C162.67 507.42 148.17 504.00 137.00 502.50 C125.83 501.00 113.67 500.25 103.00 500.00 C92.33 499.75 81.33 500.17 73.00 501.00 C64.67 501.83 58.83 502.67 53.00 505.00 C47.17 507.33 41.67 510.83 38.00 515.00 C34.33 519.17 32.17 527.50 31.00 530.00 L36.00 522.00 C37.00 520.67 39.17 516.08 42.00 514.00 C44.83 511.92 47.83 510.83 53.00 509.50 C58.17 508.17 66.00 506.33 73.00 506.00 C80.00 505.67 88.33 505.83 95.00 507.50 C101.67 509.17 107.67 512.25 113.00 516.00 C118.33 519.75 122.83 524.50 127.00 530.00 C131.17 535.50 134.42 542.33 138.00 549.00 C141.58 555.67 144.33 562.33 148.50 570.00 C152.67 577.67 159.42 588.33 163.00 595.00 C166.58 601.67 167.33 603.33 170.00 610.00 C172.67 616.67 176.75 627.50 179.00 635.00 C181.25 642.50 181.67 648.33 183.50 655.00 C185.33 661.67 187.92 667.50 190.00 675.00 C192.08 682.50 194.42 692.92 196.00 700.00 C197.58 707.08 198.42 712.92 199.50 717.50 C200.58 722.08 200.92 725.00 202.50 727.50 C204.08 730.00 206.25 731.33 209.00 732.50 C211.75 733.67 212.17 733.98 219.00 734.50 C225.83 735.02 244.83 735.42 250.00 735.60 L491 736 L491 690 L273.00 690.00 C271.67 689.00 267.17 687.05 265.00 684.00 C262.83 680.95 262.00 677.37 260.00 671.70 C258.00 666.03 255.22 657.50 253.00 650.00 C250.78 642.50 249.20 634.53 246.70 626.70 C244.20 618.87 241.12 611.12 238.00 603.00 C234.88 594.88 231.55 586.00 228.00 578.00 C224.45 570.00 220.53 562.17 216.70 555.00 C212.87 547.83 209.17 540.83 205.00 535.00 C200.83 529.17 195.70 523.83 191.70 520.00 C187.70 516.17 182.78 513.33 181.00 512.00 Z" fill="url(#gArmR)"/><path d="M181.00 512.00 C179.17 511.50 177.33 510.58 170.00 509.00 C162.67 507.42 148.17 504.00 137.00 502.50 C125.83 501.00 113.67 500.25 103.00 500.00 C92.33 499.75 81.33 500.17 73.00 501.00 C64.67 501.83 58.83 502.67 53.00 505.00 C47.17 507.33 41.67 510.83 38.00 515.00 C34.33 519.17 32.17 527.50 31.00 530.00 L36.00 522.00 C37.00 520.67 39.17 516.08 42.00 514.00 C44.83 511.92 47.83 510.83 53.00 509.50 C58.17 508.17 66.00 506.33 73.00 506.00 C80.00 505.67 88.33 505.83 95.00 507.50 C101.67 509.17 107.67 512.25 113.00 516.00 C118.33 519.75 122.83 524.50 127.00 530.00 C131.17 535.50 134.42 542.33 138.00 549.00 C141.58 555.67 144.33 562.33 148.50 570.00 C152.67 577.67 159.42 588.33 163.00 595.00 C166.58 601.67 167.33 603.33 170.00 610.00 C172.67 616.67 176.75 627.50 179.00 635.00 C181.25 642.50 181.67 648.33 183.50 655.00 C185.33 661.67 187.92 667.50 190.00 675.00 C192.08 682.50 194.42 692.92 196.00 700.00 C197.58 707.08 198.42 712.92 199.50 717.50 C200.58 722.08 200.92 725.00 202.50 727.50 C204.08 730.00 206.25 731.33 209.00 732.50 C211.75 733.67 212.17 733.98 219.00 734.50 C225.83 735.02 244.83 735.42 250.00 735.60 L491 736 L491 690 L273.00 690.00 C271.67 689.00 267.17 687.05 265.00 684.00 C262.83 680.95 262.00 677.37 260.00 671.70 C258.00 666.03 255.22 657.50 253.00 650.00 C250.78 642.50 249.20 634.53 246.70 626.70 C244.20 618.87 241.12 611.12 238.00 603.00 C234.88 594.88 231.55 586.00 228.00 578.00 C224.45 570.00 220.53 562.17 216.70 555.00 C212.87 547.83 209.17 540.83 205.00 535.00 C200.83 529.17 195.70 523.83 191.70 520.00 C187.70 516.17 182.78 513.33 181.00 512.00 Z" fill="url(#gArmTop)" opacity=".3"/></g>
<g clip-path="url(#cInner)"><path d="M279 680 L703.00 680 L795.00 745 L187 745 Z" fill="url(#gSeat)" filter="url(#blur3)"/>
<rect x="213" y="732.6" width="556" height="3.6" rx="1.8" fill="#f6adcb" filter="url(#blur07)"/></g>

<g clip-path="url(#cInner)" fill="none" stroke="#f2a9c6" stroke-width="2.4" opacity=".85"><path d="M42.00 514.00 C43.83 513.25 47.83 510.83 53.00 509.50 C58.17 508.17 66.00 506.33 73.00 506.00 C80.00 505.67 88.33 505.83 95.00 507.50 C101.67 509.17 107.67 512.25 113.00 516.00 C118.33 519.75 122.83 524.50 127.00 530.00 C131.17 535.50 134.42 542.33 138.00 549.00 C141.58 555.67 144.33 562.33 148.50 570.00 C152.67 577.67 159.42 588.33 163.00 595.00 C166.58 601.67 167.33 603.33 170.00 610.00 C172.67 616.67 176.75 627.50 179.00 635.00 C181.25 642.50 181.67 648.33 183.50 655.00 C185.33 661.67 187.92 667.50 190.00 675.00 C192.08 682.50 194.42 692.92 196.00 700.00 C197.58 707.08 198.42 712.92 199.50 717.50 C200.58 722.08 200.92 725.00 202.50 727.50 C204.08 730.00 206.25 731.33 209.00 732.50 C211.75 733.67 217.33 734.17 219.00 734.50 "/><path d="M42.00 514.00 C43.83 513.25 47.83 510.83 53.00 509.50 C58.17 508.17 66.00 506.33 73.00 506.00 C80.00 505.67 88.33 505.83 95.00 507.50 C101.67 509.17 107.67 512.25 113.00 516.00 C118.33 519.75 122.83 524.50 127.00 530.00 C131.17 535.50 134.42 542.33 138.00 549.00 C141.58 555.67 144.33 562.33 148.50 570.00 C152.67 577.67 159.42 588.33 163.00 595.00 C166.58 601.67 167.33 603.33 170.00 610.00 C172.67 616.67 176.75 627.50 179.00 635.00 C181.25 642.50 181.67 648.33 183.50 655.00 C185.33 661.67 187.92 667.50 190.00 675.00 C192.08 682.50 194.42 692.92 196.00 700.00 C197.58 707.08 198.42 712.92 199.50 717.50 C200.58 722.08 200.92 725.00 202.50 727.50 C204.08 730.00 206.25 731.33 209.00 732.50 C211.75 733.67 217.33 734.17 219.00 734.50 " transform="translate(982 0) scale(-1 1)"/></g>
<path d="M262 676 Q266 690 277 690 H705 Q716 690 720 676" fill="none" stroke="#cc628e" stroke-width="2.2" opacity=".55" filter="url(#blur07)"/>
<!-- callout lines -->
<g fill="none" stroke="#f57b20" stroke-width="3.5">
<path d="M722 75.3 H577 V275"/>
<path d="M883 714.5 H739.5 V761"/>
<path d="M317.5 853 V1063 H465"/>
</g>
<g>
<text x="739.3" y="91.2" textLength="394.0" lengthAdjust="spacingAndGlyphs" class="h">High Quality PU Leather</text>
<text x="705.0" y="130.0" textLength="432.0" lengthAdjust="spacingAndGlyphs" class="b">Meet TB117 standard, the material has good</text>
<text x="705.0" y="172.0" textLength="465.0" lengthAdjust="spacingAndGlyphs" class="b">permeability, odorless, eco-friendly, waterproof</text>
<text x="705.0" y="213.0" textLength="418.0" lengthAdjust="spacingAndGlyphs" class="b">&amp; dustproof. It would be a best gift to kids.</text>
<text x="898.0" y="728.2" textLength="292.5" lengthAdjust="spacingAndGlyphs" class="h">High-density Foam</text>
<text x="888.0" y="778.6" textLength="281.0" lengthAdjust="spacingAndGlyphs" class="b">Made from high quality foam,</text>
<text x="888.0" y="820.8" textLength="301.0" lengthAdjust="spacingAndGlyphs" class="b">which could provide long-term</text>
<text x="888.0" y="862.8" textLength="302.0" lengthAdjust="spacingAndGlyphs" class="b">service. Besides, the sofa is not</text>
<text x="888.0" y="904.7" textLength="293.6" lengthAdjust="spacingAndGlyphs" class="b">easy to deform even been fre-</text>
<text x="888.0" y="946.4" textLength="111.4" lengthAdjust="spacingAndGlyphs" class="b">quent used.</text>
<text x="475.0" y="1073.0" textLength="374.0" lengthAdjust="spacingAndGlyphs" class="h">Solid Wooden Structure</text>
<text x="451.0" y="1124.5" textLength="458.6" lengthAdjust="spacingAndGlyphs" class="b">Especially firm &amp; stable eucalyptus wood frame,</text>
<text x="451.0" y="1166.0" textLength="345.0" lengthAdjust="spacingAndGlyphs" class="b">which is also mildew &amp; moth proof.</text>
</g>
</svg>
</body></html>
